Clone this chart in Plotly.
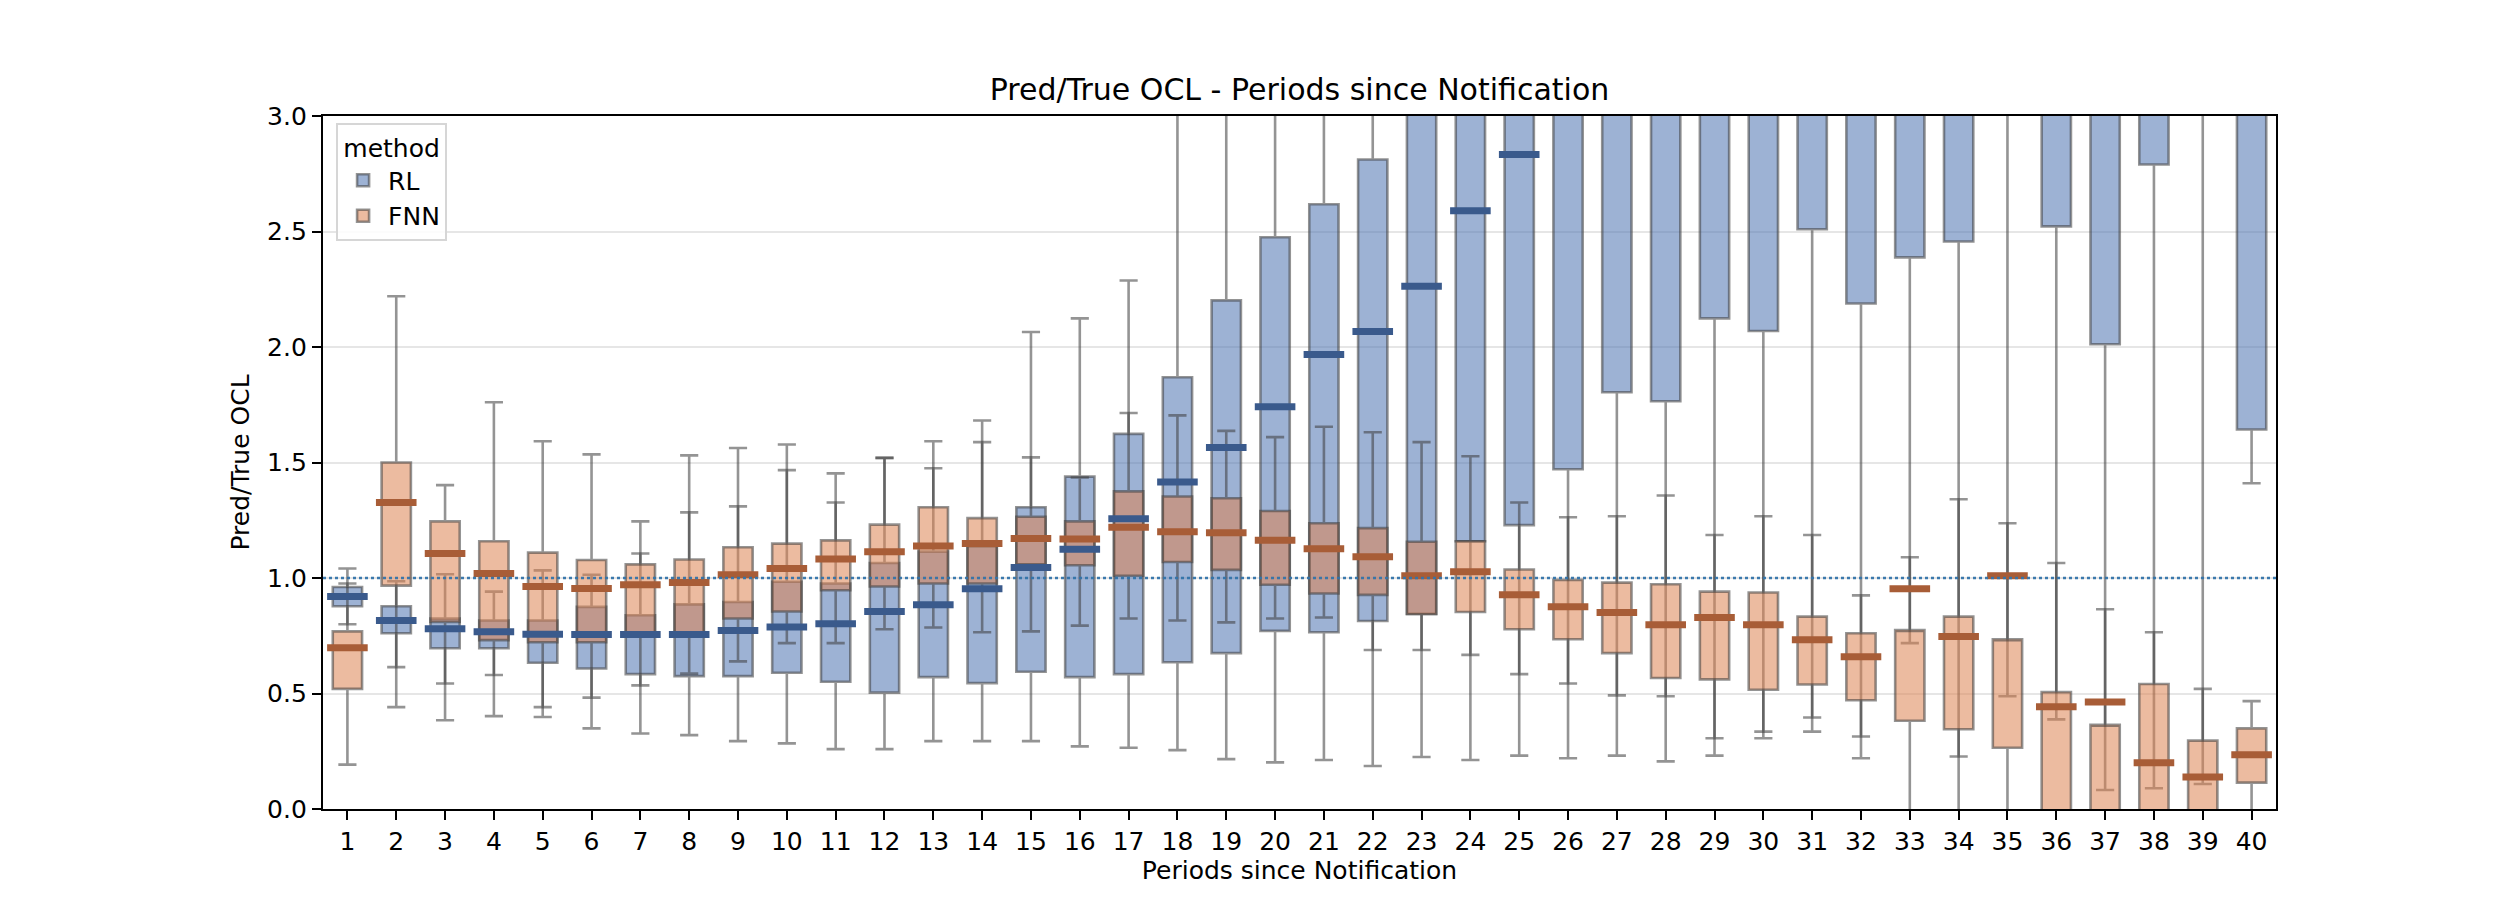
import plotly.graph_objects as go

# ---------------- data ----------------
periods = list(range(1, 41))

rl_low = [0.80, 0.614, 0.543, 0.580, 0.398, 0.349, 0.327, 0.320, 0.294, 0.284,
          0.259, 0.259, 0.294, 0.294, 0.294, 0.271, 0.265, 0.255, 0.216, 0.202,
          0.212, 0.186, 0.225, 0.212, 0.231, 0.220, 0.231, 0.206, 0.231, 0.306,
          0.335, 0.220, 0.718, 0.227, 0.488, 0.388, 0.082, 0.090, 0.108, 1.41]
rl_q1 = [0.878, 0.761, 0.696, 0.696, 0.633, 0.608, 0.584, 0.575, 0.575, 0.590,
         0.551, 0.504, 0.571, 0.545, 0.594, 0.571, 0.584, 0.635, 0.675, 0.771,
         0.765, 0.814, 0.845, 1.159, 1.229, 1.471, 1.804, 1.765, 2.124, 2.069,
         2.510, 2.188, 2.388, 2.457, 3.30, 2.522, 2.012, 2.790, 3.20, 1.643]
rl_med = [0.920, 0.816, 0.780, 0.767, 0.757, 0.755, 0.755, 0.755, 0.773, 0.788,
          0.802, 0.855, 0.884, 0.953, 1.045, 1.124, 1.257, 1.416, 1.565, 1.741,
          1.967, 2.067, 2.263, 2.590, 2.833, 3.20, 3.50, 3.40, 3.80, 3.70,
          4.10, 3.90, 4.30, 4.20, 4.80, 4.50, 3.90, 4.90, 5.20, 3.30]
rl_q3 = [0.961, 0.878, 0.824, 0.816, 0.816, 0.875, 0.839, 0.886, 0.896, 0.984,
         0.976, 1.065, 1.114, 1.137, 1.306, 1.439, 1.624, 1.869, 2.202, 2.475,
         2.618, 2.812, 3.40, 3.70, 4.00, 4.50, 4.90, 5.00, 5.40, 5.20,
         5.80, 5.60, 6.10, 6.00, 6.80, 6.50, 6.20, 7.00, 7.40, 5.00]
rl_high = [1.041, 0.986, 1.016, 0.941, 1.033, 1.014, 1.106, 1.284, 1.310, 1.467,
           1.453, 1.520, 1.475, 1.682, 2.065, 2.124, 2.288, 3.70, 4.50, 5.00,
           5.40, 5.80, 6.50, 7.00, 7.50, 8.00, 8.50, 8.80, 9.20, 9.00,
           9.80, 9.60, 10.2, 10.0, 11.0, 10.8, 10.5, 11.5, 12.0, 9.00]

fnn_low = [0.192, 0.441, 0.384, 0.402, 0.441, 0.482, 0.535, 0.586, 0.639, 0.718,
           0.718, 0.778, 0.786, 0.765, 0.769, 0.794, 0.825, 0.816, 0.808, 0.825,
           0.829, 0.688, 0.688, 0.667, 0.584, 0.543, 0.492, 0.488, 0.306, 0.335,
           0.396, 0.314, -0.05, -0.05, -0.05, -0.05, -0.05, -0.05, -0.05, -0.05]
fnn_q1 = [0.520, 0.967, 0.810, 0.731, 0.722, 0.722, 0.765, 0.761, 0.825, 0.855,
          0.947, 0.963, 0.976, 0.976, 1.059, 1.055, 1.010, 1.069, 1.035, 0.971,
          0.933, 0.927, 0.843, 0.853, 0.778, 0.735, 0.675, 0.567, 0.561, 0.516,
          0.539, 0.471, 0.382, 0.345, 0.265, -0.02, -0.02, -0.02, -0.02, 0.114]
fnn_med = [0.698, 1.327, 1.106, 1.020, 0.963, 0.955, 0.971, 0.980, 1.014, 1.041,
           1.082, 1.114, 1.139, 1.149, 1.171, 1.169, 1.220, 1.200, 1.196, 1.163,
           1.127, 1.092, 1.010, 1.027, 0.927, 0.876, 0.851, 0.798, 0.829, 0.798,
           0.733, 0.659, 0.953, 0.747, 1.010, 0.443, 0.463, 0.200, 0.139, 0.235]
fnn_q3 = [0.769, 1.500, 1.245, 1.159, 1.110, 1.078, 1.059, 1.080, 1.133, 1.149,
          1.163, 1.231, 1.306, 1.259, 1.265, 1.245, 1.375, 1.353, 1.345, 1.290,
          1.237, 1.216, 1.157, 1.159, 1.037, 0.992, 0.980, 0.973, 0.941, 0.937,
          0.833, 0.761, 0.775, 0.833, 0.735, 0.506, 0.365, 0.541, 0.296, 0.349]
fnn_high = [0.976, 2.220, 1.402, 1.761, 1.592, 1.535, 1.245, 1.531, 1.563, 1.578,
            1.327, 1.520, 1.592, 1.588, 1.522, 1.435, 1.714, 1.704, 1.637, 1.610,
            1.655, 1.631, 1.588, 1.527, 1.327, 1.263, 1.267, 1.357, 1.186, 1.267,
            1.186, 0.925, 1.090, 1.341, 1.237, 1.065, 0.865, 0.765, 0.520, 0.467]

y_ticks = [0.0, 0.5, 1.0, 1.5, 2.0, 2.5, 3.0]
reference_level = 1.0

# ---------------- styling ----------------
FONT = "DejaVu Sans"
edge = "rgba(60,60,60,0.55)"
series = [
    ("RL", rl_low, rl_q1, rl_med, rl_q3, rl_high, "rgba(76,114,176,0.55)", "#3a5a8c"),
    ("FNN", fnn_low, fnn_q1, fnn_med, fnn_q3, fnn_high, "rgba(221,132,82,0.55)", "#a85d37"),
]

fig = go.Figure()
for name, lo, q1, med, q3, hi, fill, _ in series:
    # plotly drops boxes whose median lies outside [q1, q3]; the box outline uses a
    # clamped median, the real median is drawn on top as a coloured bar below.
    box_med = [min(max(m, a), b) for m, a, b in zip(med, q1, q3)]
    fig.add_trace(go.Box(
        name=name, x=periods, q1=q1, median=box_med, q3=q3,
        lowerfence=lo, upperfence=hi,
        fillcolor=fill, line=dict(color=edge, width=2.6),
        width=0.6, whiskerwidth=0.62, boxpoints=False,
        hoverinfo="skip", showlegend=True,
    ))
for name, lo, q1, med, q3, hi, fill, mcol in series:
    fig.add_trace(go.Scatter(
        x=periods, y=med, mode="markers", showlegend=False, hoverinfo="skip",
        marker=dict(symbol="line-ew", size=29, line=dict(color=mcol, width=7)),
    ))

fig.add_hline(y=reference_level, line=dict(color="rgba(50,115,170,0.95)", width=2.6, dash="dot"),
              layer="above")

fig.update_layout(
    width=2520, height=900,
    margin=dict(l=315, r=252, t=108, b=99),
    paper_bgcolor="white", plot_bgcolor="white",
    boxmode="overlay",
    font=dict(family=FONT, size=25, color="black"),
    title=dict(text="Pred/True OCL - Periods since Notification", x=0.5, xref="paper",
               xanchor="center", y=1 - 81 / 900, yref="container", yanchor="middle",
               font=dict(family=FONT, size=30, color="black")),
    legend=dict(x=0.0067, y=0.99, xanchor="left", yanchor="top",
                bgcolor="rgba(255,255,255,0.85)", bordercolor="#d6d6d6", borderwidth=2,
                title=dict(text="method", side="top center", font=dict(size=25)),
                font=dict(size=25), tracegroupgap=4, itemwidth=40),
)
fig.update_xaxes(
    range=[0.5, 40.5], tickmode="array", tickvals=periods, ticktext=[str(p) for p in periods],
    showline=True, mirror=True, linecolor="black", linewidth=2.4,
    ticks="outside", ticklen=9, tickwidth=2.2, tickcolor="black", showgrid=False, zeroline=False,
    title=dict(text="Periods since Notification", font=dict(size=25), standoff=4),
)
fig.update_yaxes(
    range=[0, 3], tickmode="array", tickvals=y_ticks, ticktext=[f"{v:.1f}" for v in y_ticks],
    showline=True, mirror=True, linecolor="black", linewidth=2.4,
    ticks="outside", ticklen=9, tickwidth=2.2, tickcolor="black",
    showgrid=True, gridcolor="#e6e6e6", gridwidth=2, zeroline=False,
    title=dict(text="Pred/True OCL", font=dict(size=25), standoff=10),
)

fig.write_html("out.html")
